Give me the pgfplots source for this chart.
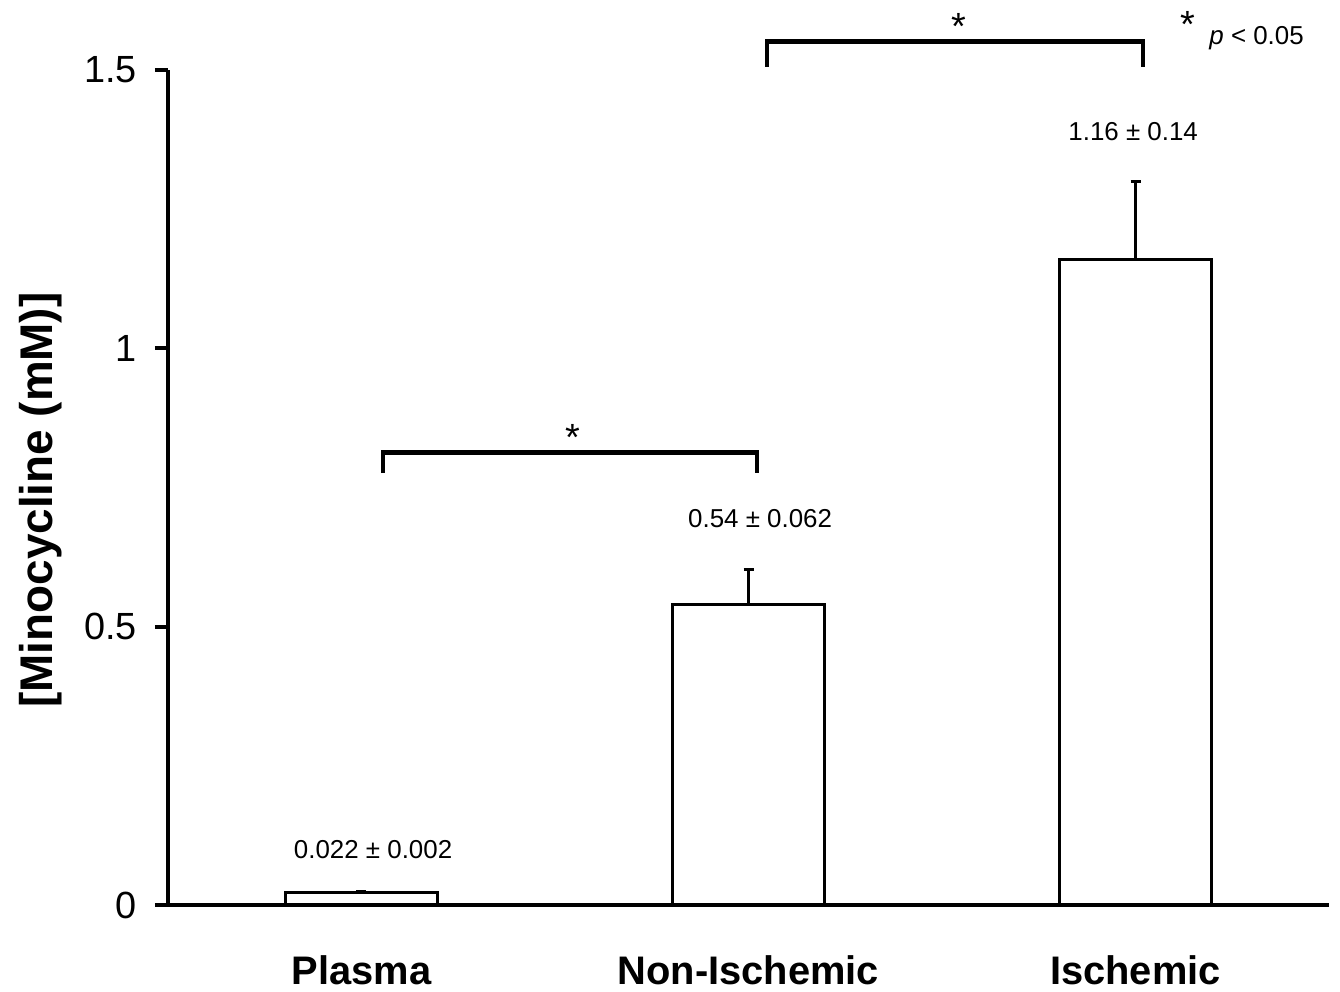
\documentclass[border=0pt]{standalone}
\usepackage{pgfplots}
\pgfplotsset{compat=1.18}
\usepackage{fontspec}
\setmainfont{Liberation Sans}
\begin{document}
\begin{tikzpicture}
\begin{axis}[
  scale only axis,
  width=580.5bp, height=417.5bp,
  xmin=-0.5, xmax=2.5, ymin=0, ymax=1.5,
  clip=false,
  axis lines*=left,
  axis line style={-, line width=2bp, black},
  xtick={0,1,2},
  xticklabels={Plasma, Non-Ischemic, Ischemic},
  xtick style={draw=none},
  ytick={0,0.5,1,1.5},
  yticklabels={0,0.5,1,1.5},
  tick align=outside,
  major tick length=6.5bp,
  ytick style={line width=2bp, black},
  x tick label style={font=\fontsize{20}{24}\selectfont\bfseries, yshift=-15.5bp},
  y tick label style={font=\fontsize{19}{22}\selectfont, xshift=-5.5bp},
  ylabel={[Minocycline (mM)]},
  ylabel style={font=\fontsize{23}{26}\selectfont\bfseries, at={(axis description cs:-0.110,0.485)}, anchor=center},
]
\addplot[ybar, bar width=0.393, fill=white, draw=black, line width=1.5bp,
  error bars/.cd, y dir=plus, y explicit,
  error bar style={line width=1.5bp, black},
  error mark options={rotate=90, mark size=2.5bp, line width=1.5bp, black}]
  coordinates {(0,0.022) +- (0,0.002) (1,0.54) +- (0,0.062) (2,1.16) +- (0,0.14)};

\draw[line width=2.2bp] (axis cs:0.056,0.776) -- (axis cs:0.056,0.813) -- (axis cs:1.022,0.813) -- (axis cs:1.022,0.776);
\draw[line width=2.2bp] (axis cs:1.048,1.506) -- (axis cs:1.048,1.551) -- (axis cs:2.020,1.551) -- (axis cs:2.020,1.506);
\node[font=\fontsize{19}{21}\selectfont, anchor=north, inner sep=0pt] at (axis cs:0.547,0.864) {*};
\node[font=\fontsize{19}{21}\selectfont, anchor=north, inner sep=0pt] at (axis cs:1.544,1.603) {*};
\node[font=\fontsize{19}{21}\selectfont, anchor=north, inner sep=0pt] at (axis cs:2.136,1.605) {*};
\node[font=\fontsize{13}{15}\selectfont, anchor=west, inner sep=0pt] at (axis cs:2.190,1.558) {\textit{p} < 0.05};
\node[font=\fontsize{13}{15}\selectfont, inner sep=0pt] at (axis cs:0.030,0.099) {0.022 ± 0.002};
\node[font=\fontsize{13}{15}\selectfont, inner sep=0pt] at (axis cs:1.030,0.695) {0.54 ± 0.062};
\node[font=\fontsize{13}{15}\selectfont, inner sep=0pt] at (axis cs:1.994,1.390) {1.16 ± 0.14};
\end{axis}
\path (current axis.south west) ++(-84bp,-43.5bp) rectangle ++(670bp,496bp);
\end{tikzpicture}
\end{document}
